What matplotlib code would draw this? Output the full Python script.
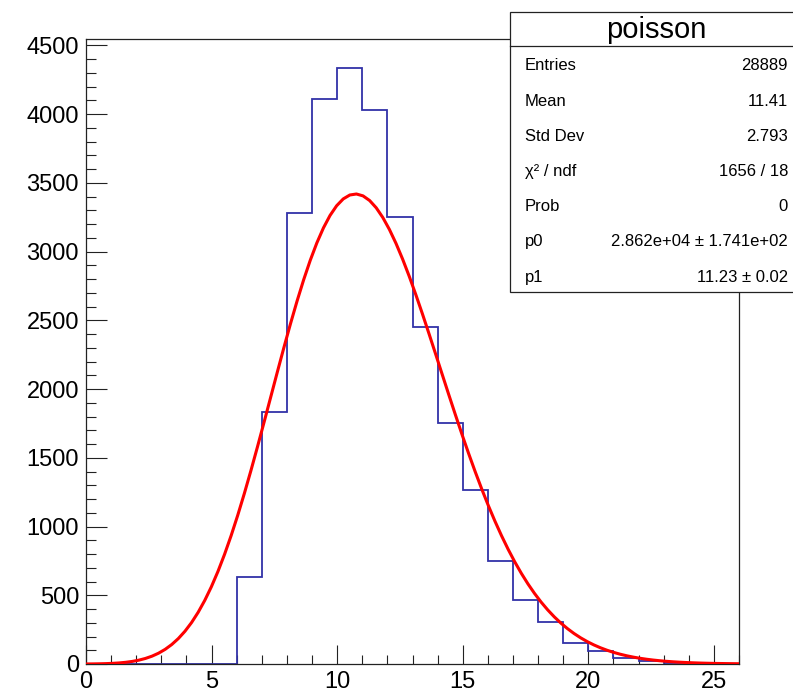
import math
import numpy as np
import matplotlib
matplotlib.use("Agg")
import matplotlib.pyplot as plt
from matplotlib.patches import Rectangle
from matplotlib.ticker import MultipleLocator

plt.rcParams['font.family'] = ['Liberation Sans', 'DejaVu Sans']

# histogram "poisson": 26 bins of width 1 from 0 to 26
bin_edges = np.arange(0, 27)
counts = [0, 0, 0, 0, 0, 0, 635, 1835, 3280, 4109, 4339, 4029, 3255,
          2453, 1755, 1268, 746, 468, 303, 153, 95, 42, 20, 6, 2, 1]

# fit result shown in the stats box
p0 = 2.862e4
p1 = 11.23

stat_labels = ["Entries", "Mean", "Std Dev", "χ² / ndf", "Prob", "p0", "p1"]
stat_values = ["28889", "11.41", "2.793", "1656 / 18", "0",
               "2.862e+04 ± 1.741e+02", "11.23 ± 0.02"]


def poisson_fit(x, norm, lam):
    # p0 * TMath::Poisson(x, p1)
    return np.array([norm * math.exp(xi * math.log(lam) - lam - math.lgamma(xi + 1))
                     for xi in x])


W, H = 793, 694
fig = plt.figure(figsize=(W / 100, H / 100), dpi=100)
ax = fig.add_axes([86 / W, 1 - 664 / H, (739 - 86) / W, (664 - 39) / H])

ax.stairs(counts, bin_edges, color='#3232a8', lw=1.3, zorder=2)

xf = np.linspace(bin_edges[0], bin_edges[-1], 100)
ax.plot(xf, poisson_fit(xf, p0, p1), color='#ff0000', lw=2.2, zorder=3)

ax.set_xlim(0, 26)
ax.set_ylim(0, 1.048 * max(counts))
ax.xaxis.set_major_locator(MultipleLocator(5))
ax.xaxis.set_minor_locator(MultipleLocator(1))
ax.yaxis.set_major_locator(MultipleLocator(500))
ax.yaxis.set_minor_locator(MultipleLocator(100))

ax.tick_params(axis='both', which='both', direction='in', width=0.8,
               color='#222222', labelsize=17, top=False, right=False)
ax.tick_params(axis='x', which='major', length=13.7, pad=5)
ax.tick_params(axis='x', which='minor', length=6.5)
ax.tick_params(axis='y', which='major', length=15, pad=5)
ax.tick_params(axis='y', which='minor', length=7.2)
for s in ax.spines.values():
    s.set_linewidth(0.9)
    s.set_color('#222222')

# stats box (sticks out of the right edge like in ROOT)
bx0, bx1 = 510 / W, 1.01
by_top, by_bot = 1 - 11.5 / H, 1 - 291.7 / H
fig.add_artist(Rectangle((bx0, by_bot), bx1 - bx0, by_top - by_bot,
                         transform=fig.transFigure, facecolor='white',
                         edgecolor='#222222', lw=0.9, zorder=5, clip_on=False))
sep_y = 1 - 45.7 / H
fig.add_artist(plt.Line2D([bx0, bx1], [sep_y, sep_y], transform=fig.transFigure,
                          color='#222222', lw=0.9, zorder=6))
fig.text(656 / W, 1 - 29.5 / H, "poisson", ha='center', va='center',
         fontsize=21, zorder=7)

for i, (lab, val) in enumerate(zip(stat_labels, stat_values)):
    yb = 1 - (70.3 + 35.2 * i) / H
    fig.text(525 / W, yb, lab, ha='left', va='baseline', fontsize=12, zorder=7)
    fig.text(788 / W, yb, val, ha='right', va='baseline', fontsize=12, zorder=7)

fig.savefig("out.png", dpi=100, facecolor='white')
